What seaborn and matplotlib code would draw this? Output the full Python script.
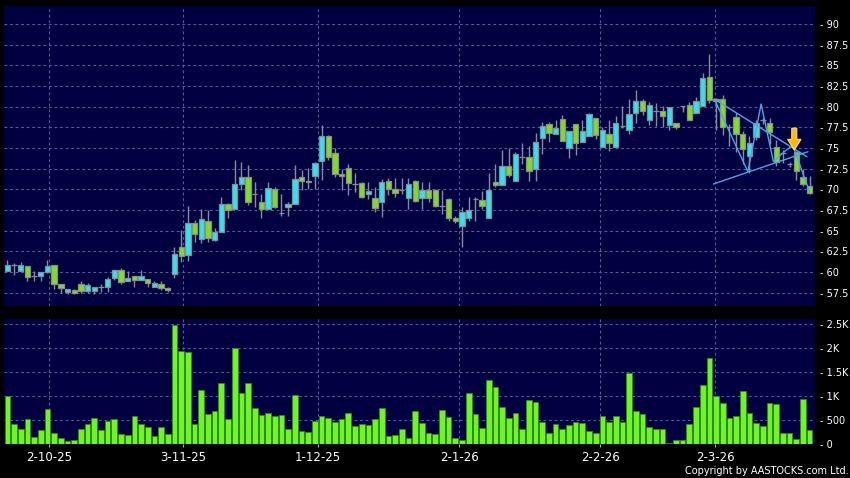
import matplotlib
matplotlib.use("Agg")
import numpy as np
import pandas as pd
import matplotlib.pyplot as plt
import seaborn as sns

# daily candles (oldest first)
opens = [60.15, 60.9, 60.15, 60.67, 59.47, 59.47, 59.95, 60.91, 58.51, 57.54,
         57.78, 58.51, 57.7, 57.7, 58.23, 58.19, 59.27, 60.19, 58.87, 59.47,
         59.03, 59.11, 58.23, 58.51, 58.02, 59.72, 63.07, 62.02, 65.89, 63.96,
         66.17, 63.88, 64.8, 68.19, 67.58, 70.65, 71.53, 69.44, 68.51, 67.58,
         70.0, 67.1, 67.9, 68.19, 71.53, 71.05, 71.62, 73.43, 76.49, 74.36,
         71.86, 72.54, 70.65, 70.73, 69.4, 68.91, 68.51, 71.05, 70.0, 69.95,
         69.0, 71.05, 69.0, 69.92, 69.92, 68.0, 68.83, 66.53, 65.53, 66.53,
         68.83, 68.71, 66.53, 70.85, 70.52, 72.86, 71.05, 73.87, 73.87, 72.46,
         76.21, 77.9, 76.69, 78.5, 75.0, 77.9, 75.69, 76.49, 78.63, 75.08,
         76.65, 75.16, 77.7, 77.18, 79.19, 80.73, 78.39, 79.48, 79.52, 77.78,
         77.98, 80.12, 80.2, 79.27, 80.08, 83.55, 80.97, 80.89, 77.6, 78.7,
         76.7, 74.03, 76.37, 78.35, 77.99, 75.16, 74.4, 73.07, 74.52, 71.53,
         70.44]
highs = [61.5, 61.1, 61.2, 60.7, 60.07, 59.95, 61.44, 60.91, 58.55, 58.0,
         57.98, 58.95, 58.71, 58.19, 58.55, 59.39, 60.19, 60.43, 60.11, 59.47,
         60.23, 59.11, 58.87, 58.87, 58.23, 63.07, 65.08, 67.99, 66.3, 67.58,
         67.5, 65.37, 69.12, 68.3, 73.55, 73.27, 72.95, 70.85, 69.44, 70.93,
         70.32, 69.4, 68.51, 72.95, 72.34, 72.54, 73.35, 77.78, 76.6, 74.96,
         72.42, 73.07, 72.02, 70.93, 70.93, 70.24, 71.2, 71.33, 71.33, 71.4,
         71.33, 71.1, 70.93, 70.9, 70.0, 69.92, 68.95, 66.82, 67.82, 69.03,
         69.11, 69.84, 71.98, 73.07, 74.8, 75.0, 74.48, 75.61, 75.2, 76.81,
         78.1, 78.1, 78.39, 78.99, 77.02, 77.9, 78.39, 79.23, 78.63, 77.5,
         78.39, 78.87, 80.12, 80.89, 82.02, 80.89, 80.6, 80.48, 80.08, 80.0,
         77.98, 80.12, 80.52, 81.21, 84.03, 86.37, 81.0, 81.41, 77.9, 79.2,
         77.0, 76.45, 78.4, 78.6, 78.6, 75.97, 74.8, 73.3, 74.6, 72.5,
         71.6]
lows = [60.1, 59.6, 60.1, 58.87, 58.87, 58.87, 59.9, 57.9, 57.5, 57.34,
        57.34, 57.5, 57.5, 57.38, 57.62, 57.62, 59.0, 58.55, 58.87, 58.23,
        59.03, 58.23, 58.23, 57.78, 57.62, 59.32, 61.25, 61.37, 63.67, 63.55,
        63.67, 63.79, 64.8, 66.5, 67.58, 69.92, 68.11, 67.9, 66.5, 67.58,
        67.7, 66.82, 66.78, 68.19, 69.92, 70.0, 70.0, 71.13, 73.55, 71.53,
        69.92, 69.32, 69.72, 68.91, 68.83, 67.22, 66.62, 69.32, 69.12, 69.44,
        67.58, 68.5, 67.58, 68.5, 67.9, 67.02, 66.21, 65.89, 62.99, 66.21,
        66.13, 67.62, 66.53, 70.24, 70.52, 71.45, 71.05, 73.07, 70.97, 70.97,
        74.27, 75.69, 76.69, 75.81, 73.79, 74.19, 75.69, 76.49, 76.09, 75.08,
        74.68, 75.16, 77.38, 76.69, 77.98, 78.99, 77.78, 77.66, 77.5, 77.18,
        77.26, 79.4, 78.39, 79.27, 80.08, 80.5, 77.18, 76.57, 75.2, 74.5,
        73.1, 72.0, 76.0, 77.9, 75.5, 72.8, 73.2, 72.7, 71.13, 70.4,
        69.4]
closes = [60.79, 60.9, 60.79, 59.39, 59.47, 59.95, 60.75, 58.51, 58.02, 57.98,
          57.42, 57.7, 58.39, 58.19, 58.23, 59.11, 60.19, 58.83, 59.27, 59.03,
          59.47, 58.71, 58.63, 58.02, 57.78, 62.14, 61.94, 65.89, 64.56, 66.37,
          64.16, 64.8, 68.19, 67.5, 70.65, 71.53, 68.43, 69.44, 67.58, 70.12,
          67.9, 67.1, 68.19, 71.21, 71.05, 70.85, 73.15, 76.45, 73.95, 71.86,
          71.62, 70.81, 70.65, 69.12, 69.8, 67.7, 70.93, 70.0, 69.6, 69.95,
          70.6, 68.6, 69.92, 68.9, 68.03, 68.0, 66.53, 66.13, 67.22, 67.5,
          68.83, 67.94, 69.92, 70.52, 72.78, 71.77, 74.28, 73.87, 72.26, 75.77,
          77.62, 76.81, 77.42, 75.81, 77.02, 75.61, 77.02, 79.11, 76.61, 77.18,
          75.56, 77.98, 77.7, 79.11, 80.73, 79.48, 80.2, 79.48, 78.87, 80.0,
          77.5, 80.12, 78.39, 80.73, 83.43, 80.81, 80.72, 77.5, 77.6, 76.7,
          74.84, 75.57, 77.99, 78.35, 76.9, 73.35, 74.4, 73.07, 72.22, 70.61,
          69.52]
volumes = [1000, 420, 315, 525, 140, 295, 727, 224, 133, 70,
           84, 308, 420, 539, 301, 490, 525, 210, 196, 580,
           420, 364, 168, 357, 210, 2480, 1943, 1922, 426, 1139,
           636, 685, 1279, 525, 2006, 1076, 1272, 748, 615, 650,
           594, 601, 308, 1035, 266, 245, 490, 594, 539, 455,
           532, 650, 385, 413, 399, 518, 748, 175, 196, 308,
           126, 699, 434, 231, 210, 713, 559, 133, 84, 1076,
           636, 336, 1328, 1195, 776, 545, 657, 322, 923, 874,
           468, 231, 426, 315, 405, 468, 433, 272, 223, 586,
           454, 579, 461, 1480, 684, 628, 363, 307, 314, 14,
           84, 84, 412, 782, 1242, 1800, 998, 859, 551, 586,
           1103, 642, 447, 377, 852, 838, 237, 237, 98, 935,
           293]

date_labels = ["2-10-25", "3-11-25", "1-12-25", "2-1-26", "2-2-26", "2-3-26"]
date_ticks = [6.2, 26.3, 46.4, 67.6, 88.7, 105.9]
price_ticks = [57.5, 60, 62.5, 65, 67.5, 70, 72.5, 75, 77.5, 80, 82.5, 85, 87.5, 90]
vol_ticks = [0, 500, 1000, 1500, 2000, 2500]
vol_labels = ["0", "500", "1K", "1.5K", "2K", "2.5K"]

# drawn pattern (triangle + zigzag) and signal arrow
upper_x = [105.76, 119.58]
upper_y = [80.9, 73.95]
lower_x = [105.61, 119.73]
lower_y = [70.65, 74.55]
zigzag_x = [105.76, 110.76, 112.74, 114.58, 116.33, 117.49, 119.97]
zigzag_y = [80.9, 72.14, 80.32, 73.35, 74.64, 75.31, 69.72]
arrow_x = 117.7
arrow_top = 77.4
arrow_tip = 74.75

NAVY = "#000040"
GRID = "#5a5a9a"
UP = "#2be4f4"
DOWN = "#7de01e"
VOL = "#6ef522"

sns.set_theme(style="dark")
plt.rcParams["font.family"] = ["DejaVu Sans"]

df = pd.DataFrame({"open": opens, "high": highs, "low": lows,
                   "close": closes, "volume": volumes})
df["idx"] = np.arange(len(df))

fig = plt.figure(figsize=(8.5, 4.78), dpi=100, facecolor="black")
ax = fig.add_axes([4 / 850, 1 - 306 / 478, 811 / 850, 300 / 478])
axv = fig.add_axes([4 / 850, 1 - 444 / 478, 811 / 850, 125 / 478])

for a in (ax, axv):
    a.set_facecolor(NAVY)
    for s in a.spines.values():
        s.set_visible(False)
    a.grid(False)
    a.set_xlim(-0.5, 120.8)
    for t in date_ticks:
        a.axvline(t, color=GRID, lw=0.8, ls=(0, (2.5, 2.5)), zorder=0)

# price panel
for p in price_ticks:
    ax.axhline(p, color=GRID, lw=0.8, ls=(0, (2.5, 2.5)), zorder=0)

ax.vlines(df["idx"], df["low"], df["high"], color="#8a8a9c", lw=1.0, zorder=2)
body_col = np.where(df["close"] > df["open"], UP,
                    np.where(df["close"] < df["open"], DOWN, "#8c8c8c"))
ax.bar(df["idx"], (df["close"] - df["open"]).abs(),
       bottom=df[["open", "close"]].min(axis=1), width=0.8,
       color=body_col, edgecolor="#8c8c8c", linewidth=0.9, zorder=3)

sns.lineplot(x=upper_x, y=upper_y, ax=ax, color="#4aa6ea", lw=1.0, zorder=4)
sns.lineplot(x=lower_x, y=lower_y, ax=ax, color="#4aa6ea", lw=1.0, zorder=4)
sns.lineplot(x=zigzag_x, y=zigzag_y, ax=ax, color="#4aa6ea", lw=1.0,
             sort=False, estimator=None, zorder=4)
ax.arrow(arrow_x, arrow_top, 0, arrow_tip - arrow_top, width=0.75,
         head_width=2.0, head_length=1.3, length_includes_head=True,
         fc="#ffb80a", ec="#ffe060", lw=0.8, zorder=5)

ax.set_ylim(55.89, 92.18)
ax.yaxis.tick_right()
ax.set_yticks(price_ticks)
ax.set_yticklabels(["- " + f"{p:g}" for p in price_ticks])
ax.tick_params(axis="y", length=0, pad=3.5, labelsize=7, labelcolor="white")
ax.set_xticks([])
ax.set_xlabel("")
ax.set_ylabel("")

# volume panel
for v in vol_ticks[1:]:
    axv.axhline(v, color=GRID, lw=0.8, ls=(0, (2.5, 2.5)), zorder=0)
sns.barplot(data=df, x="idx", y="volume", native_scale=True, width=0.85,
            color=VOL, saturation=1, edgecolor="#2e8b0e", linewidth=0.6,
            ax=axv, zorder=3)
axv.set_xlim(-0.5, 120.8)
axv.set_ylim(0, 2614)
axv.yaxis.tick_right()
axv.set_yticks(vol_ticks)
axv.set_yticklabels(["- " + l for l in vol_labels])
axv.tick_params(axis="y", length=0, pad=3.5, labelsize=7, labelcolor="white")
axv.set_xticks(date_ticks)
axv.set_xticklabels(date_labels)
axv.tick_params(axis="x", bottom=True, length=2.3, width=0.8, color="#aaaaaa",
                direction="out", pad=3, labelsize=8.5, labelcolor="white")
axv.set_xlabel("")
axv.set_ylabel("")

fig.text(0.998, 1 - 471 / 478, "Copyright by AASTOCKS.com Ltd.", color="white",
         fontsize=7, ha="right", va="center")

fig.savefig("out.png", dpi=100, facecolor="black")
